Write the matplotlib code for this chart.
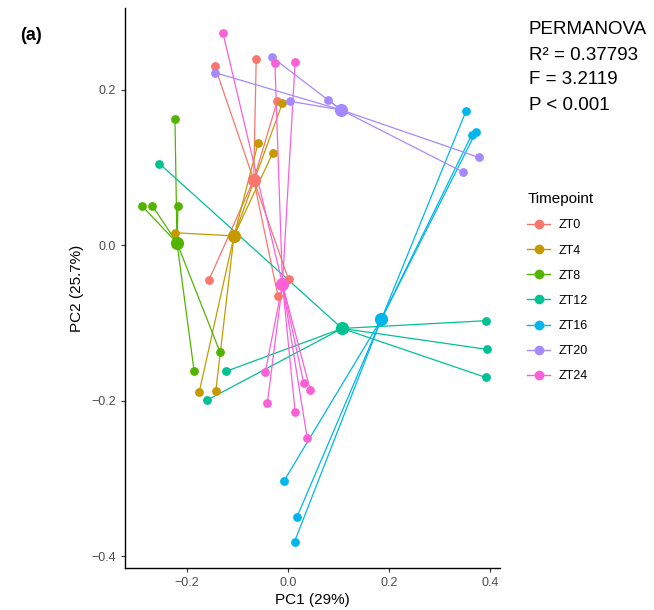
import matplotlib
matplotlib.use('Agg')
from matplotlib import pyplot as plt
from matplotlib.lines import Line2D

plt.rcParams['font.family'] = ['Liberation Sans', 'DejaVu Sans']

timepoints = ['ZT0', 'ZT4', 'ZT8', 'ZT12', 'ZT16', 'ZT20', 'ZT24']
colors = ['#F8766D', '#C49A00', '#53B400', '#00C094', '#00B6EB', '#A58AFF', '#FB61D7']

# sample scores per timepoint (PC1, PC2)
zt0_x = [-0.145, -0.063, -0.021, -0.157, 0.001, -0.020]
zt0_y = [0.230, 0.240, 0.186, -0.045, -0.044, -0.065]
zt4_x = [-0.011, -0.059, -0.030, -0.223, -0.176, -0.143]
zt4_y = [0.183, 0.132, 0.119, 0.016, -0.189, -0.187]
zt8_x = [-0.224, -0.290, -0.269, -0.218, -0.135, -0.186]
zt8_y = [0.162, 0.051, 0.051, 0.051, -0.137, -0.162]
zt12_x = [-0.255, -0.122, -0.160, 0.393, 0.395, 0.392]
zt12_y = [0.105, -0.162, -0.199, -0.097, -0.134, -0.170]
zt16_x = [0.353, 0.372, 0.364, -0.008, 0.018, 0.013]
zt16_y = [0.173, 0.145, 0.142, -0.303, -0.349, -0.381]
zt20_x = [-0.145, -0.032, 0.004, 0.080, 0.378, 0.347]
zt20_y = [0.222, 0.242, 0.185, 0.187, 0.113, 0.094]
zt24_x = [-0.129, -0.026, 0.014, -0.045, -0.041, 0.031, 0.044, 0.014, 0.038]
zt24_y = [0.273, 0.234, 0.235, -0.163, -0.203, -0.177, -0.186, -0.214, -0.248]

# group centroids
cent_x = [-0.068, -0.107, -0.220, 0.107, 0.185, 0.105, -0.011]
cent_y = [0.084, 0.012, 0.003, -0.107, -0.095, 0.174, -0.050]

xs = [zt0_x, zt4_x, zt8_x, zt12_x, zt16_x, zt20_x, zt24_x]
ys = [zt0_y, zt4_y, zt8_y, zt12_y, zt16_y, zt20_y, zt24_y]

stats_lines = ['PERMANOVA', 'R\u00b2 = 0.37793', 'F = 3.2119', 'P < 0.001']


def main():
    fig = plt.figure(figsize=(6.54, 6.10), dpi=100)
    ax = fig.add_axes([125/654, 42/610, 375/654, 560/610])

    for i in range(len(timepoints)):
        for x, y in zip(xs[i], ys[i]):
            ax.plot([cent_x[i], x], [cent_y[i], y], color=colors[i], lw=0.9, zorder=2)
    for i in range(len(timepoints)):
        ax.scatter(xs[i], ys[i], s=40, color=colors[i], linewidths=0, zorder=3)
        ax.scatter([cent_x[i]], [cent_y[i]], s=90, color=colors[i], linewidths=0, zorder=3)

    ax.set_xlim(-0.323, 0.42)
    ax.set_ylim(-0.415, 0.305)
    ax.set_xticks([-0.2, 0.0, 0.2, 0.4])
    ax.set_xticklabels(['\u22120.2', '0.0', '0.2', '0.4'])
    ax.set_yticks([-0.4, -0.2, 0.0, 0.2])
    ax.set_yticklabels(['\u22120.4', '\u22120.2', '0.0', '0.2'])
    ax.tick_params(labelsize=9, colors='#333333', labelcolor='#4D4D4D', length=3, width=0.8, direction='out')
    for s in ['top', 'right']:
        ax.spines[s].set_visible(False)
    for s in ['left', 'bottom']:
        ax.spines[s].set_linewidth(1.0)
        ax.spines[s].set_color('black')
    ax.set_xlabel('PC1 (29%)', fontsize=11, labelpad=3)
    ax.set_ylabel('PC2 (25.7%)', fontsize=11, labelpad=5)

    fig.text(20/654, 1 - 35/610, '(a)', fontsize=13, fontweight='bold', va='center', ha='left')
    # one line at a time, ~25 px apart
    for k, line in enumerate(stats_lines):
        fig.text(529/654, 1 - (30 + 25*k)/610, line, fontsize=13.5, va='center', ha='left')

    handles = [Line2D([0], [0], color=c, lw=1, marker='o', markersize=7, markeredgewidth=0) for c in colors]
    leg = fig.legend(handles, timepoints, title='Timepoint', loc='upper left',
                     bbox_to_anchor=(516/654, 1 - 181/610), frameon=False, fontsize=9,
                     title_fontsize=11, handlelength=1.8, labelspacing=1.05, handletextpad=0.7)
    leg._legend_box.align = 'left'

    fig.savefig('out.png', dpi=100)


if __name__ == '__main__':
    main()
